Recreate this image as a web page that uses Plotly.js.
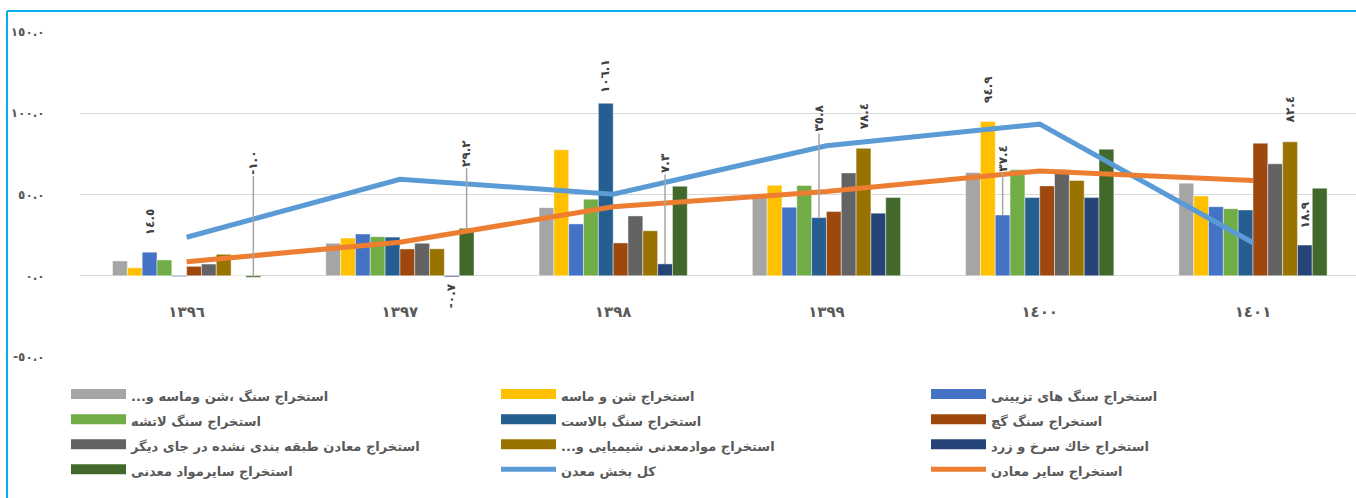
<!DOCTYPE html>
<html><head><meta charset="utf-8">
<script src="https://cdn.plot.ly/plotly-3.0.1.min.js"></script>
<style>
html,body{margin:0;padding:0;background:#fff;overflow:hidden;}
#chart{width:1356px;height:498px;}
</style></head><body>
<div id="chart"></div>
<script>
// ---- data ----
const categories = ['١٣٩٦','١٣٩٧','١٣٩٨','١٣٩٩','١٤٠٠','١٤٠١'];
const seriesNames = [
  'استخراج سنگ ،شن وماسه و...',
  'استخراج شن و ماسه',
  'استخراج سنگ های تزیینی',
  'استخراج سنگ لاتشه',
  'استخراج سنگ بالاست',
  'استخراج سنگ گچ',
  'استخراج معادن طبقه بندی نشده در جای دیگر',
  'استخراج موادمعدنی شیمیایی و...',
  'استخراج خاك سرخ و زرد',
  'استخراج سایرمواد معدنی'
];
const gravelSandStone = [9.1, 20.0, 41.9, 48.6, 63.5, 57.0];
const sandGravel      = [4.9, 23.2, 77.5, 55.7, 94.9, 49.1];
const decorativeStone = [14.5, 25.7, 31.9, 42.2, 37.4, 42.5];
const rubbleStone     = [9.7, 24.0, 47.1, 55.5, 65.2, 41.3];
const ballastStone    = [-0.5, 23.8, 106.1, 35.8, 48.1, 40.5];
const gypsumStone     = [5.8, 16.5, 20.2, 39.5, 55.3, 81.6];
const unclassified    = [7.2, 20.0, 36.8, 63.3, 65.2, 68.9];
const chemicalMineral = [13.2, 16.6, 27.7, 78.4, 58.6, 82.4];
const redYellowSoil   = [0, -0.7, 7.3, 38.5, 48.1, 18.9];
const otherMinerals   = [-1.0, 29.2, 55.1, 48.1, 77.9, 53.9];
const totalMining     = [23.7, 59.4, 50.2, 80.0, 93.3, 20.3];
const otherMines      = [8.6, 20.6, 42.5, 51.8, 64.5, 58.6];
const lineNames = ['کل بخش معدن', 'استخراج سایر معادن'];
const yTickVals = [-50, 0, 50, 100, 150];
const yTickText = ['-٥٠.٠', '٠.٠', '٥٠.٠', '١٠٠.٠', '١٥٠.٠'];
// labelled bars: series index and category index
const labelSeries = [2, 9, 8, 9, 4, 8, 4, 7, 1, 2, 7, 8];
const labelCat    = [0, 0, 1, 1, 2, 2, 3, 3, 4, 4, 5, 5];

// ---- styling ----
const barSeries = [gravelSandStone, sandGravel, decorativeStone, rubbleStone, ballastStone,
                   gypsumStone, unclassified, chemicalMineral, redYellowSoil, otherMinerals];
const barColors = ['#A5A5A5','#FFC000','#4472C4','#70AD47','#255E91',
                   '#9E480E','#636363','#997300','#264478','#43682B'];
const lineColors = ['#5B9BD5','#ED7D31'];
// label placement: leader offset (px) or null, and shift for plain labels
const labelLeader = [null, -115, null, -75, null, -101, -99, null, null, -57, null, null];
const labelShift  = [15, 0, -4, 0, 8, 0, 0, 17, 17, 0, 17, 15];
const FONT = 'DejaVu Sans, Noto Sans, sans-serif';
const GREY = '#595959';
const BARGAP = 0.305;
const RLM = '\u200F';

const arDigits = ['٠','١','٢','٣','٤','٥','٦','٧','٨','٩'];
function toAr(v){ return v.toFixed(1).replace(/[0-9]/g, d => arDigits[+d]); }
function legText(t){ return '<span style="font-size:13px">' + t + RLM + '</span>'; }

const traces = [];
barSeries.forEach((vals, i) => {
  traces.push({type:'bar', x:categories, y:vals, name:seriesNames[i], showlegend:false,
    marker:{color:barColors[i], line:{color:'rgba(255,255,255,0.55)', width:0.8}},
    hoverinfo:'y'});
});
// legend entries (wide swatches like the original)
seriesNames.forEach((nm, i) => {
  traces.push({type:'scatter', mode:'lines', x:[null], y:[null], name:legText(nm),
    line:{color:barColors[i], width:10}, hoverinfo:'skip'});
});
[totalMining, otherMines].forEach((vals, i) => {
  traces.push({type:'scatter', mode:'lines', x:categories, y:vals, name:legText(lineNames[i]),
    line:{color:lineColors[i], width:5}, hoverinfo:'y'});
});

const nSer = barSeries.length;
const bw = (1 - BARGAP) / nSer;
const annotations = labelSeries.map((s, k) => {
  const c = labelCat[k];
  const v = barSeries[s][c];
  const a = {x: c + (s - (nSer - 1) / 2) * bw, y: v, xref:'x', yref:'y',
    text: toAr(v), textangle: -90,
    font:{family:FONT, size:12, color:'#404040', weight:'bold'}};
  if (labelLeader[k] !== null) {
    Object.assign(a, {showarrow:true, arrowhead:0, arrowwidth:1.5, arrowcolor:'#A6A6A6',
      ax:0, ay:labelLeader[k], standoff:0});
  } else {
    Object.assign(a, {showarrow:false, xanchor:'center',
      yanchor: labelShift[k] >= 0 ? 'bottom' : 'top', yshift: labelShift[k]});
  }
  return a;
});

const frameColor = '#00B0F0';
const shapes = [
  {type:'line', xref:'paper', yref:'paper', x0:-0.0572, x1:-0.0572, y0:-0.6, y1:1.0646,
   line:{color:frameColor, width:2}},
  {type:'line', xref:'paper', yref:'paper', x0:-0.0572, x1:1.2, y0:1.0646, y1:1.0646,
   line:{color:frameColor, width:2}}
];

const layout = {
  width:1356, height:498,
  margin:{l:80, r:0, t:32, b:141},
  paper_bgcolor:'#fff', plot_bgcolor:'#fff',
  barmode:'group', bargap:BARGAP, bargroupgap:0,
  font:{family:FONT, color:GREY},
  xaxis:{type:'category', range:[-0.5, 5.483], anchor:'free', position:0.25,
    showgrid:false, showline:false, zeroline:false,
    ticks:'outside', ticklen:22, tickcolor:'rgba(0,0,0,0)',
    tickfont:{family:FONT, size:15, color:GREY, weight:'bold'}},
  yaxis:{range:[-50,150], tickvals:yTickVals, ticktext:yTickText,
    showgrid:true, gridcolor:'#D9D9D9', gridwidth:1.3,
    zeroline:true, zerolinecolor:'#D9D9D9', zerolinewidth:1.3, showline:false,
    ticks:'outside', ticklen:32, tickcolor:'rgba(0,0,0,0)',
    tickfont:{family:FONT, size:12, color:GREY, weight:'bold'}},
  legend:{orientation:'h', x:-0.00001, xanchor:'left', y:-0.06, yanchor:'top',
    entrywidth:360, entrywidthmode:'pixels', itemwidth:55,
    font:{family:FONT, size:17, color:GREY, weight:'bold'}, traceorder:'normal'},
  annotations: annotations,
  shapes: shapes,
  showlegend:true
};
Plotly.newPlot('chart', traces, layout, {displayModeBar:false, staticPlot:true});
</script>
</body></html>
